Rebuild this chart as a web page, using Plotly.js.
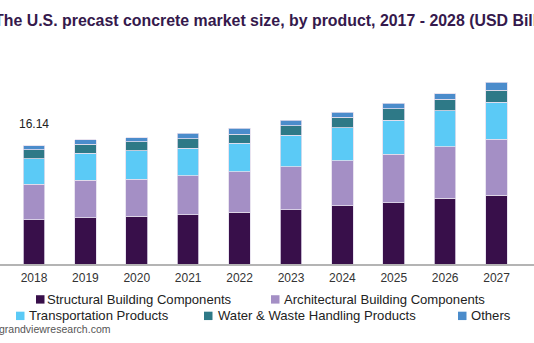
<!DOCTYPE html>
<html>
<head>
<meta charset="utf-8">
<script src="https://cdn.plot.ly/plotly-3.0.1.min.js"></script>
<style>html,body{margin:0;padding:0;background:#fff;}#chart{width:534px;height:343px;}</style>
</head>
<body>
<div id="chart"></div>
<script>
const years = ["2018","2019","2020","2021","2022","2023","2024","2025","2026","2027"];
const seriesNames = ["Structural Building Components","Architectural Building Components","Transportation Products","Water & Waste Handling Products","Others"];
const structural    = [6.03, 6.34, 6.48, 6.71, 7.07, 7.39, 7.97, 8.38, 8.98, 9.39];
const architectural = [4.86, 5.09, 5.09, 5.31, 5.52, 5.89, 6.08, 6.59, 6.98, 7.62];
const transportation= [3.44, 3.67, 3.85, 3.77, 3.86, 4.27, 4.53, 4.67, 4.94, 5.03];
const waterWaste    = [1.22, 1.22, 1.27, 1.27, 1.27, 1.31, 1.41, 1.54, 1.55, 1.67];
const others        = [0.59, 0.63, 0.54, 0.78, 0.78, 0.73, 0.72, 0.73, 0.76, 1.05];
const labelledYear = "2018";
const titleText = "The U.S. precast concrete market size, by product, 2017 - 2028 (USD Billion)";
const sourceText = "grandviewresearch.com";

const colors = ["#380f4a","#a48fc5","#5bcaf6","#2e7987","#4b8ccb"];
const values = [structural, architectural, transportation, waterWaste, others];
const FONT = 'Arial, "Liberation Sans", sans-serif';

const W = 534, plotTop = 60, plotBottom = 264.5, H = 343;
const plotH = plotBottom - plotTop;
const px = x => x / W;
const py = y => (plotBottom - y) / plotH;

const traces = values.map((v, i) => ({
  type: "bar", x: years, y: v, name: seriesNames[i],
  marker: {color: colors[i], line: {color: "#e4ddec", width: 0.8}},
  hoverinfo: "x+y+name"
}));

const li = years.indexOf(labelledYear);
const total = values.reduce((s, arr) => s + arr[li], 0);

const annotations = [
  {xref: "paper", yref: "paper", x: px(-8), y: py(20), xanchor: "left", yanchor: "middle",
   text: "<b>" + titleText + "</b>", showarrow: false,
   font: {family: FONT, size: 15.9, color: "#35194c"}},
  {xref: "x", yref: "y", x: li, y: total, xanchor: "center", yanchor: "middle", yshift: 22,
   text: total.toFixed(2), showarrow: false, font: {family: FONT, size: 12, color: "#222"}},
  {xref: "paper", yref: "paper", x: px(-3), y: py(330), xanchor: "left", yanchor: "middle",
   text: sourceText, showarrow: false, font: {family: FONT, size: 10.5, color: "#555"}}
];

// custom legend layout (two centred rows)
const legendPos = [
  {sq: 36, tx: 46, y: 300},
  {sq: 271, tx: 283, y: 300},
  {sq: 16, tx: 28, y: 316.5},
  {sq: 204, tx: 217, y: 316.5},
  {sq: 458, tx: 470, y: 316.5}
];
const shapes = [];
legendPos.forEach((p, i) => {
  annotations.push({xref: "paper", yref: "paper", x: px(p.tx - 1), y: py(p.y), xanchor: "left", yanchor: "middle",
    text: seriesNames[i], showarrow: false, font: {family: FONT, size: 13.1, color: "#222"}});
  shapes.push({type: "rect", xref: "paper", yref: "paper", x0: px(p.sq), x1: px(p.sq + 8.5),
    y0: py(p.y - 4.2), y1: py(p.y + 4.2), fillcolor: colors[i], line: {width: 0}});
});

const layout = {
  width: W, height: H,
  margin: {l: 0, r: 0, t: plotTop, b: H - plotBottom, pad: 0},
  paper_bgcolor: "#fff", plot_bgcolor: "#fff",
  barmode: "stack", bargap: 0.58,
  showlegend: false,
  xaxis: {type: "category", range: [-0.661, 9.728], showline: true, linecolor: "#b4b4b4", linewidth: 2,
    showgrid: false, zeroline: false, ticks: "", ticklabelstandoff: 2,
    tickfont: {family: FONT, size: 12, color: "#333"}, fixedrange: true},
  yaxis: {range: [0, plotH / 7.35], visible: false, showgrid: false, zeroline: false, fixedrange: true},
  annotations: annotations,
  shapes: shapes
};

Plotly.newPlot("chart", traces, layout, {displayModeBar: false, staticPlot: true});
</script>
</body>
</html>
